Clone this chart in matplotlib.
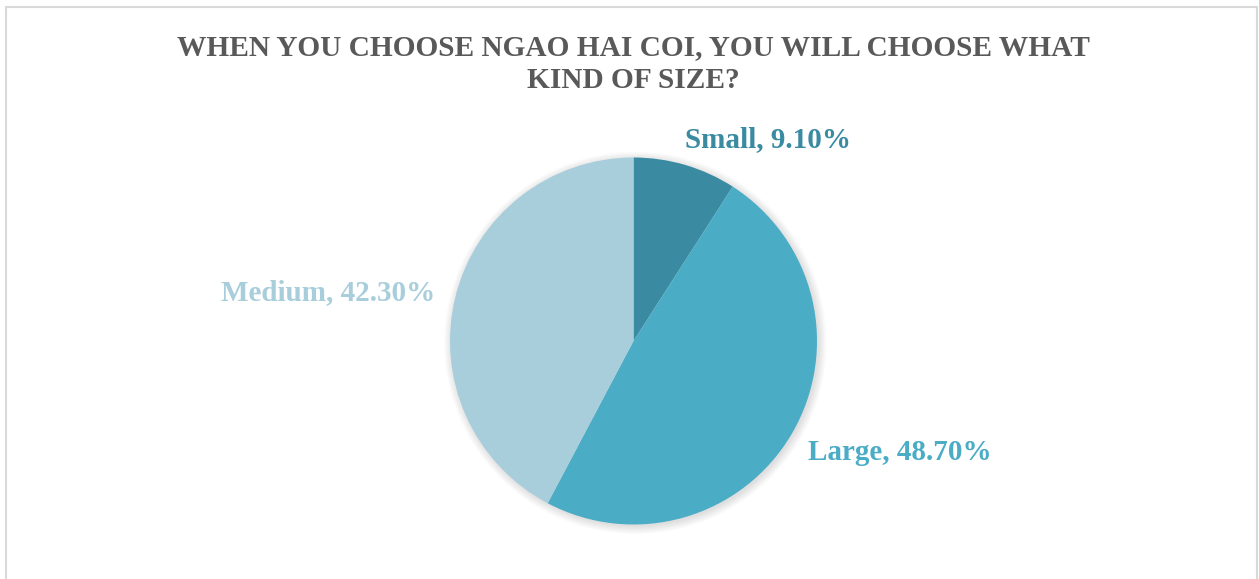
import numpy as np
import matplotlib.pyplot as plt
from matplotlib.patches import Rectangle, Circle

# survey answers, clockwise from 12 o'clock
sizes = ["Small", "Large", "Medium"]
shares = [9.10, 48.70, 42.30]
colors = ["#3A8BA2", "#4BACC6", "#A8CEDC"]
title = "WHEN YOU CHOOSE NGAO HAI COI, YOU WILL CHOOSE WHAT\nKIND OF SIZE?"

W, H = 1259, 579
fig = plt.figure(figsize=(W / 100, H / 100), dpi=100)
fig.patch.set_facecolor("white")

# light grey chart frame (runs off the bottom edge)
fig.patches.append(Rectangle((6 / W, -0.05), 1251 / W, (H - 7) / H + 0.05,
                             transform=fig.transFigure, fill=False,
                             edgecolor="#D9D9D9", linewidth=1.5))

fig.text(633 / W, 1 - 64 / H, title, ha="center", va="center",
         family="Liberation Serif", fontweight="bold", fontsize=21.2,
         color="#595959", linespacing=1.25)

# pie: centre (633.5, 341) px, radius 183.5 px
cx, cy, r = 633.5, 341, 183.5
ax = fig.add_axes([(cx - r) / W, (H - cy - r) / H, 2 * r / W, 2 * r / H])

# soft shadow behind the pie
for i in range(8):
    ax.add_patch(Circle((0.01, -0.01), 1.0 + 0.006 * i, color="black",
                        alpha=0.014, lw=0, zorder=0, clip_on=False))

ax.pie(shares, colors=colors, startangle=90, counterclock=False,
       radius=1.0, wedgeprops=dict(linewidth=0), frame=True)
ax.set_xlim(-1, 1)
ax.set_ylim(-1, 1)
ax.set_aspect("equal")
ax.axis("off")

label_pos = [(0.733, 1.10), (1.452, -0.605), (-1.665, 0.262)]
for name, val, col, (x, y) in zip(sizes, shares, colors, label_pos):
    ax.text(x, y, f"{name}, {val:.2f}%", ha="center", va="center",
            family="Liberation Serif", fontweight="bold", fontsize=21,
            color=col, clip_on=False)

fig.savefig("out.png", dpi=100)
